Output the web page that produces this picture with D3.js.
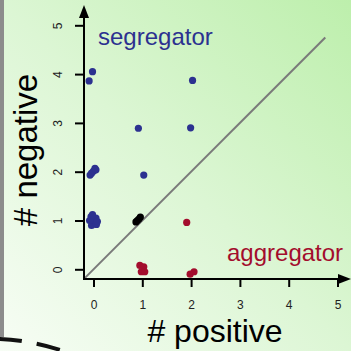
<!DOCTYPE html>
<html>
<head>
<meta charset="utf-8">
<script src="https://cdn.jsdelivr.net/npm/d3@7"></script>
<style>
  body { margin: 0; }
  svg { display: block; font-family: "Liberation Sans", Arial, sans-serif; }
</style>
</head>
<body>
<svg id="chart" width="351" height="351"></svg>
<script>
// counts per cell (# positive, # negative), jittered as in the picture
const segregatorX = [-0.02, -0.09, 0.92, 2.03, 1.99, -0.04, 0.03, -0.07, 0.0, 0.05, 1.03,
  -0.05, 0.05, 0.0, -0.04, 0.06, 0.02, -0.08, 0.08, -0.02]
const segregatorY = [4.05, 3.86, 2.89, 3.87, 2.90, 1.97, 2.07, 1.93, 2.01, 2.04, 1.93,
  1.08, 1.05, 0.95, 0.90, 0.92, 1.00, 1.00, 0.98, 1.12]
const neutralX = [0.87, 0.90, 0.93, 0.96]
const neutralY = [0.97, 1.00, 1.03, 1.07]
const aggregatorX = [1.91, 0.95, 1.03, 0.98, 1.05, 1.98, 2.06]
const aggregatorY = [0.96, 0.08, 0.05, -0.05, -0.05, -0.10, -0.05]
const ticks = [0, 1, 2, 3, 4, 5]

const blue = '#2c3190'
const red = '#a30d2d'

const svg = d3.select('#chart')

// background
const defs = svg.append('defs')
const grad = defs.append('linearGradient')
	.attr('id', 'bg')
	.attr('x1', '0').attr('y1', '1')
	.attr('x2', '1').attr('y2', '0')
grad.append('stop').attr('offset', '0%').attr('stop-color', '#f7fdf5')
grad.append('stop').attr('offset', '50%').attr('stop-color', '#dcf6d4')
grad.append('stop').attr('offset', '100%').attr('stop-color', '#bdefac')
svg.append('rect').attr('width', 351).attr('height', 351).attr('fill', 'url(#bg)')

// left frame bar and dashed curve
svg.append('rect').attr('x', 0).attr('y', 0).attr('width', 4).attr('height', 337).attr('fill', '#8c8c8c')
svg.append('path')
	.attr('d', 'M -2 339 Q 35 340 78 356')
	.attr('fill', 'none')
	.attr('stroke', '#111')
	.attr('stroke-width', 4)
	.attr('stroke-dasharray', '24 15')

const x = d3.scaleLinear().domain([0, 5]).range([93.5, 337.5])
const y = d3.scaleLinear().domain([0, 5]).range([269.3, 25.3])

const ox = 84, oy = 279

// diagonal
svg.append('line')
	.attr('x1', x(-0.18)).attr('y1', y(-0.18))
	.attr('x2', x(4.75)).attr('y2', y(4.75))
	.attr('stroke', '#7a7a7a')
	.attr('stroke-width', 2)

// axes
const xAxis = svg.append('g')
	.attr('transform', `translate(0,${oy})`)
	.call(d3.axisBottom(x).tickValues(ticks).tickFormat(d3.format('d'))
		.tickSize(8).tickPadding(13).tickSizeOuter(0))
xAxis.select('.domain').remove()
xAxis.selectAll('line').attr('stroke', '#000').attr('stroke-width', 2)
xAxis.selectAll('text').attr('font-size', 12).attr('fill', '#222')
	.attr('font-family', '"Liberation Sans", Arial, sans-serif')

const yAxis = svg.append('g')
	.attr('transform', `translate(${ox},0)`)
	.call(d3.axisLeft(y).tickValues(ticks).tickFormat(d3.format('d'))
		.tickSize(9).tickSizeOuter(0))
yAxis.select('.domain').remove()
yAxis.selectAll('line').attr('stroke', '#000').attr('stroke-width', 2)
yAxis.selectAll('text')
	.attr('x', 0).attr('y', 0).attr('dy', null)
	.attr('text-anchor', 'middle')
	.attr('transform', 'translate(-22,0) rotate(-90)')
	.attr('font-size', 12).attr('fill', '#222')
	.attr('font-family', '"Liberation Sans", Arial, sans-serif')

svg.append('line').attr('x1', ox).attr('y1', oy + 1).attr('x2', ox).attr('y2', 14)
	.attr('stroke', '#000').attr('stroke-width', 2)
svg.append('line').attr('x1', ox - 1).attr('y1', oy).attr('x2', 342).attr('y2', oy)
	.attr('stroke', '#000').attr('stroke-width', 2)
svg.append('path').attr('d', `M ${ox} 5 L ${ox - 5} 18 L ${ox + 5} 18 Z`).attr('fill', '#000')
svg.append('path').attr('d', `M 351 ${oy} L 338 ${oy - 5} L 338 ${oy + 5} Z`).attr('fill', '#000')

// points
function drawPoints (xs, ys, color) {
	svg.append('g')
		.selectAll('circle')
		.data(xs.map((v, i) => [v, ys[i]]))
		.join('circle')
		.attr('cx', (d) => x(d[0]))
		.attr('cy', (d) => y(d[1]))
		.attr('r', 3.6)
		.attr('fill', color)
}
drawPoints(segregatorX, segregatorY, blue)
drawPoints(neutralX, neutralY, '#000')
drawPoints(aggregatorX, aggregatorY, red)

// labels
svg.append('text').attr('x', 98).attr('y', 45)
	.attr('font-size', 24).attr('fill', blue).text('segregator')
svg.append('text').attr('x', 227).attr('y', 261)
	.attr('font-size', 24).attr('fill', red).text('aggregator')
svg.append('text').attr('x', 215).attr('y', 342)
	.attr('text-anchor', 'middle').attr('font-size', 32).attr('fill', '#000').text('# positive')
svg.append('text')
	.attr('transform', 'translate(37,150) rotate(-90)')
	.attr('text-anchor', 'middle').attr('font-size', 33).attr('fill', '#000').text('# negative')
</script>
</body>
</html>
